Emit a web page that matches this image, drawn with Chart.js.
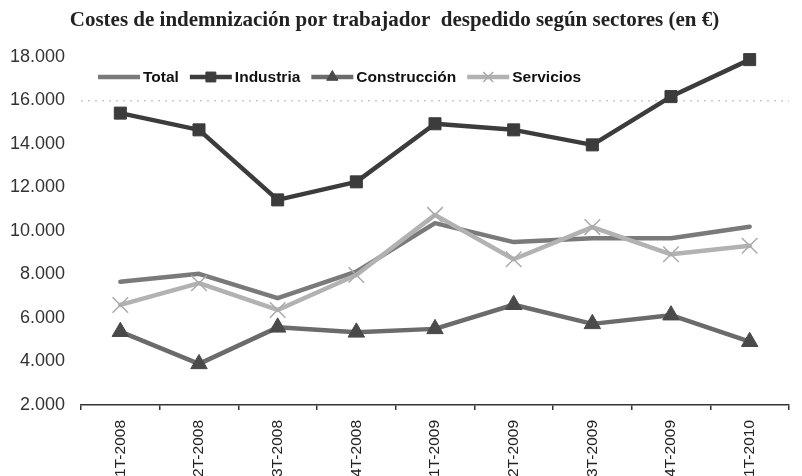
<!DOCTYPE html>
<html lang="es">
<head>
<meta charset="utf-8">
<title>Costes de indemnización por trabajador despedido</title>
<script src="https://cdn.jsdelivr.net/npm/chart.js@4.4.1/dist/chart.umd.min.js"></script>
<style>
  html, body { margin: 0; padding: 0; background: #ffffff; }
  .chart-box { position: relative; width: 802px; height: 476px; }
</style>
</head>
<body>
<div class="chart-box">
  <canvas id="indemnizacion-chart"></canvas>
</div>
<script>
// Datos (euros por trabajador despedido)
const trimestres = ['1T-2008', '2T-2008', '3T-2008', '4T-2008', '1T-2009', '2T-2009', '3T-2009', '4T-2009', '1T-2010'];
const total = [7670, 8030, 6910, 8130, 10360, 9490, 9670, 9670, 10200];
const industria = [15420, 14650, 11430, 12260, 14930, 14650, 13960, 16180, 17880];
const construccion = [5370, 3890, 5570, 5340, 5500, 6610, 5730, 6130, 4910];
const servicios = [6600, 7600, 6370, 7980, 10740, 8700, 10180, 8930, 9320];

const yMin = 2000;
const yMax = 18000;
const yStep = 2000;

function formatMiles(value) {
  return String(value).replace(/\B(?=(\d{3})+(?!\d))/g, '.');
}

// Leyenda dentro del área del gráfico, como en el original de Excel
const leyendaInterna = {
  id: 'leyendaInterna',
  afterDraw(chart, args, opts) {
    const ctx = chart.ctx;
    let x = opts.left;
    const y = opts.top;
    ctx.save();
    ctx.font = opts.font;
    ctx.textBaseline = 'middle';
    ctx.textAlign = 'left';
    chart.data.datasets.forEach((ds) => {
      ctx.setLineDash([]);
      ctx.strokeStyle = ds.borderColor;
      ctx.lineWidth = ds.borderWidth;
      ctx.lineCap = 'butt';
      ctx.beginPath();
      ctx.moveTo(x, y);
      ctx.lineTo(x + opts.sampleWidth, y);
      ctx.stroke();

      ctx.fillStyle = ds.pointBackgroundColor;
      ctx.strokeStyle = ds.pointBorderColor;
      ctx.lineWidth = ds.pointBorderWidth;
      Chart.helpers.drawPoint(ctx, {
        pointStyle: ds.pointStyle,
        radius: ds.legendPointRadius,
        borderWidth: ds.pointBorderWidth,
        rotation: 0
      }, x + opts.sampleWidth / 2, y);

      x += opts.sampleWidth + opts.textGap;
      ctx.fillStyle = opts.color;
      ctx.fillText(ds.label, x, y + 1);
      x += ctx.measureText(ds.label).width + opts.itemGap;
    });
    ctx.restore();
  }
};

const canvas = document.getElementById('indemnizacion-chart');

new Chart(canvas, {
  type: 'line',
  data: {
    labels: trimestres,
    datasets: [
      {
        label: 'Total',
        data: total,
        borderColor: '#7a7a7a',
        borderWidth: 4.5,
        pointRadius: 0,
        pointStyle: false,
        legendPointRadius: 0,
        pointBackgroundColor: '#7a7a7a',
        pointBorderColor: '#7a7a7a',
        pointBorderWidth: 0,
        clip: false,
        order: 4
      },
      {
        label: 'Industria',
        data: industria,
        borderColor: '#3c3c3c',
        borderWidth: 4.5,
        pointStyle: 'rect',
        pointRadius: 8.5,
        legendPointRadius: 7,
        pointBackgroundColor: '#3c3c3c',
        pointBorderColor: '#3c3c3c',
        pointBorderWidth: 1,
        clip: false,
        order: 3
      },
      {
        label: 'Construcción',
        data: construccion,
        borderColor: '#6b6b6b',
        borderWidth: 4.5,
        pointStyle: 'triangle',
        pointRadius: 9.5,
        legendPointRadius: 6.5,
        pointBackgroundColor: '#4a4a4a',
        pointBorderColor: '#4a4a4a',
        pointBorderWidth: 1,
        clip: false,
        order: 2
      },
      {
        label: 'Servicios',
        data: servicios,
        borderColor: '#b2b2b2',
        borderWidth: 4.5,
        pointStyle: 'crossRot',
        pointRadius: 11,
        legendPointRadius: 7,
        pointBackgroundColor: '#ababab',
        pointBorderColor: '#ababab',
        pointBorderWidth: 1.5,
        clip: false,
        order: 1
      }
    ]
  },
  options: {
    responsive: true,
    maintainAspectRatio: false,
    animation: false,
    layout: { padding: { left: 0, right: 13, top: 0, bottom: 0 } },
    elements: {
      line: { tension: 0, borderJoinStyle: 'round', borderCapStyle: 'round' }
    },
    plugins: {
      legend: { display: false },
      tooltip: { enabled: false },
      title: {
        display: true,
        text: 'Costes de indemnización por trabajador  despedido según sectores (en €)',
        color: '#222222',
        font: { family: "'Liberation Serif', 'Times New Roman', serif", size: 21, weight: 'bold', lineHeight: 1.2 },
        padding: { top: 8, bottom: 23.8 }
      },
      leyendaInterna: {
        left: 98,
        top: 77,
        sampleWidth: 42,
        textGap: 3,
        itemGap: 11,
        color: '#111111',
        font: "bold 15.5px 'Liberation Sans', Arial, sans-serif"
      }
    },
    scales: {
      x: {
        offset: true,
        grid: {
          offset: true,
          drawOnChartArea: false,
          drawTicks: true,
          tickLength: 5,
          color: '#333333',
          lineWidth: 1.5
        },
        border: { display: true, color: '#333333', width: 1.5 },
        ticks: {
          autoSkip: false,
          maxRotation: 90,
          minRotation: 90,
          padding: 10,
          color: '#222222',
          font: { family: "'Liberation Sans', Arial, sans-serif", size: 15.5 }
        },
        afterFit(scale) {
          scale.height = 71;
        }
      },
      y: {
        min: yMin,
        max: yMax,
        ticks: {
          stepSize: yStep,
          padding: 16,
          color: '#333333',
          font: { family: "'Liberation Sans', Arial, sans-serif", size: 18 },
          callback: (value) => formatMiles(value)
        },
        grid: {
          drawTicks: false,
          lineWidth: 1.5,
          color: (ctx) => (ctx.tick && ctx.tick.value === 16000 ? '#cccccc' : 'rgba(0,0,0,0)')
        },
        border: { display: false, dash: [2, 5] },
        afterFit(scale) {
          scale.width = 81;
        }
      }
    }
  },
  plugins: [leyendaInterna]
});
</script>
</body>
</html>
